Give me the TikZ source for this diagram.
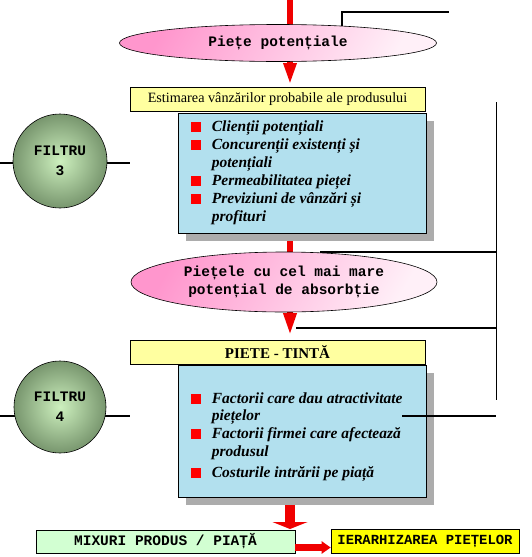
\documentclass[tikz,border=0pt]{standalone}
\usepackage{fontspec}
\setmainfont{Liberation Serif}
\newfontfamily\cour{Liberation Mono}
\usetikzlibrary{shapes.geometric,arrows.meta,calc}
\definecolor{pinkc}{RGB}{255,150,205}
\definecolor{pinkw}{RGB}{255,240,248}
\definecolor{lyellow}{RGB}{255,255,160}
\definecolor{byellow}{RGB}{255,255,0}
\definecolor{lgreen}{RGB}{210,255,210}
\definecolor{lblue}{RGB}{178,224,238}
\definecolor{ginner}{RGB}{205,240,190}
\definecolor{gouter}{RGB}{120,150,110}
\definecolor{arrred}{RGB}{240,0,0}
\newcommand{\bsq}{\makebox[21pt][l]{\textcolor{red}{\rule[-0.5pt]{10pt}{10pt}}}}
\newcommand{\bsk}{\hspace*{21pt}}
\begin{document}
\begin{tikzpicture}[x=1pt,y=-1pt,
  ell/.style={ellipse,draw=black,line width=0.6pt,left color=pinkc,right color=pinkw,shading angle=60,inner sep=0pt,font=\cour\bfseries\fontsize{14.5}{18}\selectfont,align=center},
  ybox/.style={rectangle,draw=black,line width=0.6pt,fill=lyellow,inner sep=0pt,font=\fontsize{14.2}{16}\selectfont},
  bbox/.style={rectangle,draw=black,line width=0.6pt,fill=lblue,inner sep=0pt},
  shad/.style={fill=gray!65,draw=none},
  filt/.style={circle,draw=black,line width=0.6pt,inner color=ginner,outer color=gouter,inner sep=0pt,font=\cour\bfseries\fontsize{14.5}{20}\selectfont,align=center},
  item/.style={anchor=west,inner sep=0pt,font=\bfseries\itshape\fontsize{15.5}{18}\selectfont},
  conn/.style={draw=black,line width=1.8pt},
  thin conn/.style={draw=black,line width=1pt},
  redarrow/.style={draw=arrred,line width=6pt,-{Triangle[width=12pt,length=22pt]}},
]
\useasboundingbox (0,0) rectangle (532,557);
% coordinates
\coordinate (top) at (290,0);
\coordinate (a2s) at (290,238);
\coordinate (a3s) at (290,505);
\coordinate (v1) at (496,102);
\coordinate (v2) at (496,400);
\coordinate (c1) at (342,26);
\coordinate (c1e) at (449,12);
\coordinate (f3w) at (0,163);
\coordinate (f3e) at (130,163);
\coordinate (f4w) at (0,416);
\coordinate (f4e) at (130,416);
\coordinate (l2s) at (296,328);
\coordinate (l3s) at (402,416);
\coordinate (estc) at (277.5,99);
\coordinate (b1c) at (302,173);
\coordinate (e2c) at (284,282);
\coordinate (ptc) at (277.5,352);
\coordinate (b2c) at (302,431);

% red arrows (behind)
\draw[redarrow] (top) -- (290,85);
\draw[redarrow,-{Triangle[width=12pt,length=23pt]}] (a2s) -- (290,336);
\draw[draw=arrred,line width=10pt,-{Triangle[width=35pt,length=7pt]}] (a3s) -- (290,529);

% ellipse 1
\node[ell,minimum width=317pt,minimum height=37pt] (e1) at (278,43) {Piețe potențiale};

\node[ybox,minimum width=295pt,minimum height=24pt] (est) at (estc) {Estimarea vânzărilor probabile ale produsului};

% box 1 with shadow
\fill[shad] (186,121) rectangle (434,241);
\node[bbox,minimum width=248pt,minimum height=120pt] (b1) at (b1c) {};
\node[item] (i1) at ($(b1.north west)+(13,15)$) {\bsq Clienții potențiali};
\node[item] (i2) at ($(b1.north west)+(13,33)$) {\bsq Concurenții existenți și};
\node[item] (i3) at ($(b1.north west)+(13,51)$) {\bsk potențiali};
\node[item] (i4) at ($(b1.north west)+(13,69)$) {\bsq Permeabilitatea pieței};
\node[item] (i5) at ($(b1.north west)+(13,87)$) {\bsq Previziuni de vânzări și};
\node[item] (i6) at ($(b1.north west)+(13,105)$) {\bsk profituri};

% filter 3
\draw[conn] (f3w) -- (f3e);
\node[filt,minimum size=94pt] (f3) at (60,161) {FILTRU\\3};

% ellipse 2
\node[ell,minimum width=306pt,minimum height=60pt] (e2) at (e2c) {Piețele cu cel mai mare\\potențial de absorbție};

% right side connectors
\draw[thin conn] (v1) -- (v2);
\draw[conn] ($(e2.north)+(36,0)$) -- (e2.north -| v1);
\draw[conn] (l2s) -- (l2s -| v1);
\draw[conn] (c1) |- (c1e);

% PIETE - TINTA
\node[ybox,minimum width=295pt,minimum height=24pt,font=\bfseries\fontsize{15}{17}\selectfont] (pt) at (ptc) {PIETE - TINTĂ};

% box 2
\fill[shad] (186,373) rectangle (434,505);
\node[bbox,minimum width=248pt,minimum height=132pt] (b2) at (b2c) {};
\node[item] (j1) at ($(b2.north west)+(13,34)$) {\bsq Factorii care dau atractivitate};
\node[item] (j2) at ($(b2.north west)+(13,52)$) {\bsk piețelor};
\node[item] (j3) at ($(b2.north west)+(13,70)$) {\bsq Factorii firmei care afectează};
\node[item] (j4) at ($(b2.north west)+(13,88)$) {\bsk produsul};
\node[item] (j5) at ($(b2.north west)+(13,109)$) {\bsq Costurile intrării pe piață};
\draw[conn] (l3s) -- (l3s -| v1);

% filter 4
\draw[conn] (f4w) -- (f4e);
\node[filt,minimum size=92pt] (f4) at (60,407) {FILTRU\\4};

% bottom boxes
\node[rectangle,draw=black,line width=0.6pt,fill=lgreen,minimum width=259pt,minimum height=23pt,inner sep=0pt,font=\cour\bfseries\fontsize{14.5}{16}\selectfont] (mix) at (165.5,541.5) {MIXURI PRODUS / PIAȚĂ};
\node[rectangle,draw=black,line width=0.6pt,fill=byellow,minimum width=188pt,minimum height=24pt,inner sep=0pt,font=\cour\bfseries\fontsize{13.9}{16}\selectfont] (ier) at (425,541) {IERARHIZAREA PIEȚELOR};
\draw[draw=arrred,line width=7pt,-{Triangle[width=12pt,length=9pt]}] ($(mix.east)+(0,6)$) -- ($(ier.west)+(0,6.5)$);
\end{tikzpicture}
\end{document}
